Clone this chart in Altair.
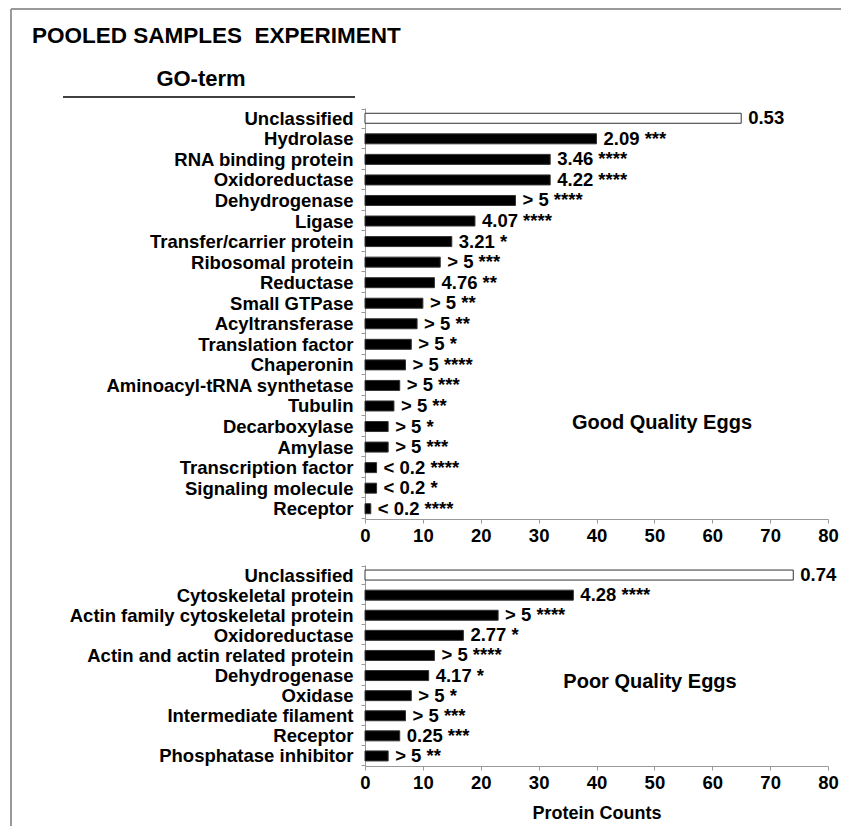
import altair as alt
import pandas as pd

FONT = "Liberation Sans, Arial, Helvetica, sans-serif"

# ---- Good quality eggs ----
good_terms = ["Unclassified", "Hydrolase", "RNA binding protein", "Oxidoreductase",
              "Dehydrogenase", "Ligase", "Transfer/carrier protein", "Ribosomal protein",
              "Reductase", "Small GTPase", "Acyltransferase", "Translation factor",
              "Chaperonin", "Aminoacyl-tRNA synthetase", "Tubulin", "Decarboxylase",
              "Amylase", "Transcription factor", "Signaling molecule", "Receptor"]
good_counts = [65, 40, 32, 32, 26, 19, 15, 13, 12, 10, 9, 8, 7, 6, 5, 4, 4, 2, 2, 1]
good_labels = ["0.53", "2.09 ***", "3.46 ****", "4.22 ****", "> 5 ****", "4.07 ****",
               "3.21 *", "> 5 ***", "4.76 **", "> 5 **", "> 5 **", "> 5 *", "> 5 ****",
               "> 5 ***", "> 5 **", "> 5 *", "> 5 ***", "< 0.2 ****", "< 0.2 *", "< 0.2 ****"]

# ---- Poor quality eggs ----
poor_terms = ["Unclassified", "Cytoskeletal protein", "Actin family cytoskeletal protein",
              "Oxidoreductase", "Actin and actin related protein", "Dehydrogenase",
              "Oxidase", "Intermediate filament", "Receptor", "Phosphatase inhibitor"]
poor_counts = [74, 36, 23, 17, 12, 11, 8, 7, 6, 4]
poor_labels = ["0.74", "4.28 ****", "> 5 ****", "2.77 *", "> 5 ****", "4.17 *",
               "> 5 *", "> 5 ***", "0.25 ***", "> 5 **"]

x_ticks = [0, 10, 20, 30, 40, 50, 60, 70, 80]

W = 463
LS = 18.5


def panel(terms, counts, labels, height, show_title, note, note_xy):
    df = pd.DataFrame({"term": terms, "count": counts, "label": labels})
    xaxis = alt.Axis(values=x_ticks, grid=False, tickSize=4, labelPadding=3,
                     labelFlush=False,
                     labelFontSize=LS, labelFontWeight="bold", labelColor="black",
                     labelFont=FONT, domainColor="#999", tickColor="#999",
                     title="Protein Counts" if show_title else None,
                     titleFont=FONT, titleFontSize=18, titleFontWeight="bold",
                     titleColor="black", titlePadding=13)
    x = alt.X("count:Q", scale=alt.Scale(domain=[0, 80], nice=False), axis=xaxis)
    y = alt.Y("term:N", sort=terms,
              axis=alt.Axis(title=None, tickSize=4, tickBand="extent", labelPadding=8,
                            labelFontSize=LS, labelFontWeight="bold", labelColor="black",
                            labelFont=FONT, domainColor="#999", tickColor="#999",
                            labelLimit=400))
    base = alt.Chart(df)
    bars = base.mark_bar(size=10, stroke="#333", strokeWidth=1).encode(
        x=x, y=y,
        fill=alt.condition(alt.datum.term == "Unclassified", alt.value("white"), alt.value("black")),
    )
    text = base.mark_text(align="left", baseline="middle", dx=7, fontSize=LS,
                          fontWeight="bold", font=FONT, color="black").encode(
        x="count:Q", y=alt.Y("term:N", sort=terms), text="label:N")
    ann = alt.Chart(pd.DataFrame({"t": [note]})).mark_text(
        align="center", baseline="middle", fontSize=20, fontWeight="bold",
        font=FONT, color="black").encode(
        x=alt.value(note_xy[0]), y=alt.value(note_xy[1]), text="t:N")
    return alt.layer(bars, text, ann).properties(width=W, height=height)


top = panel(good_terms, good_counts, good_labels, 411, False, "Good Quality Eggs", (297, 315))

one = pd.DataFrame({"a": [0]})
title = alt.Chart(pd.DataFrame({"t": ["POOLED SAMPLES\u00a0 EXPERIMENT"]})).mark_text(
    align="left", baseline="middle", fontSize=22.5, fontWeight="bold", font=FONT,
    color="black").encode(x=alt.value(-333), y=alt.value(-72), text="t:N")
goterm = alt.Chart(pd.DataFrame({"t": ["GO-term"]})).mark_text(
    align="center", baseline="middle", fontSize=22, fontWeight="bold", font=FONT,
    color="black").encode(x=alt.value(-164), y=alt.value(-29), text="t:N")
goline = alt.Chart(one).mark_rule(color="black", strokeWidth=1.5).encode(
    x=alt.value(-302), x2=alt.value(-10), y=alt.value(-11))
border_left = alt.Chart(one).mark_rule(color="#999", strokeWidth=2).encode(
    x=alt.value(-354), y=alt.value(-99), y2=alt.value(718))
border_top = alt.Chart(one).mark_rule(color="#999", strokeWidth=2).encode(
    x=alt.value(-354), x2=alt.value(476), y=alt.value(-99))

top = alt.layer(top, title, goterm, goline, border_left, border_top)

bottom = panel(poor_terms, poor_counts, poor_labels, 201, True, "Poor Quality Eggs", (285, 117))

chart = alt.vconcat(top, bottom, spacing=46, bounds="flush").properties(
    padding={"left": 2, "top": 0, "right": 0, "bottom": 0},
    background="white",
).configure_view(stroke=None)

chart.save("out.html", embed_options={"renderer": "svg", "actions": False})
